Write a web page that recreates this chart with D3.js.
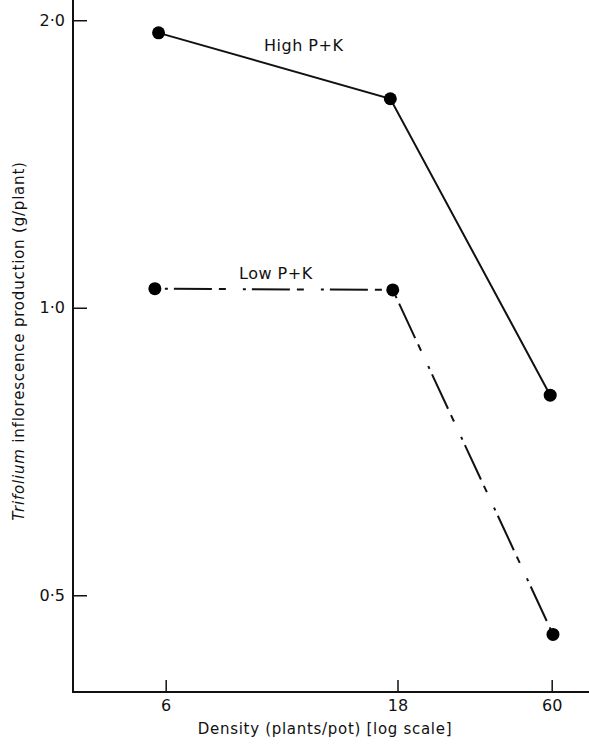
<!DOCTYPE html>
<html>
<head>
<meta charset="utf-8">
<script src="https://cdn.jsdelivr.net/npm/d3@7"></script>
<style>
  body { margin: 0; background: #fff; }
  text { font-family: "DejaVu Sans", sans-serif; fill: #111; }
</style>
</head>
<body>
<div id="chart"></div>
<script>
// density (plants/pot) and inflorescence production (g/plant)
var densityTicks = [6, 18, 60];
var yTicks = [0.5, 1.0, 2.0];
var highDensity = [5.8, 17.4, 59.3];
var highValues = [1.94, 1.655, 0.81];
var lowDensity = [5.7, 17.6, 60.6];
var lowValues = [1.047, 1.044, 0.455];

var width = 589, height = 744;
var margin = {left: 73, bottom: 52};

var svg = d3.select("#chart")
  .append("svg")
  .attr("width", width)
  .attr("height", height);

// x is drawn on a (piecewise) log scale, as in the original figure
var x = d3.scaleLog()
  .domain(densityTicks)
  .range([165.7, 397.5, 551.7]);

var y = d3.scaleLog()
  .domain([0.396, 2.1])
  .range([height - margin.bottom, 0]);

// axes lines
svg.append("line")
  .attr("x1", margin.left).attr("x2", margin.left)
  .attr("y1", 0).attr("y2", height - margin.bottom)
  .attr("stroke", "#111").attr("stroke-width", 2);
svg.append("line")
  .attr("x1", margin.left - 1).attr("x2", width)
  .attr("y1", height - margin.bottom).attr("y2", height - margin.bottom)
  .attr("stroke", "#111").attr("stroke-width", 2);

var yAxis = svg.append("g")
  .attr("transform", "translate(" + margin.left + ",0)")
  .call(d3.axisLeft(y)
    .tickValues(yTicks)
    .tickSize(-14)
    .tickPadding(8)
    .tickFormat(d => d3.format(".1f")(d).replace(".", "·")));

var xAxis = svg.append("g")
  .attr("transform", "translate(0," + (height - margin.bottom) + ")")
  .call(d3.axisBottom(x)
    .tickValues(densityTicks)
    .tickSize(-12)
    .tickPadding(8)
    .tickFormat(d3.format("d")));

[yAxis, xAxis].forEach(g => {
  g.select(".domain").remove();
  g.selectAll(".tick line").attr("stroke", "#111").attr("stroke-width", 1.5);
  g.selectAll(".tick text")
    .attr("fill", "#111")
    .style("font-family", "DejaVu Sans")
    .style("font-size", "16px");
});

// axis titles
svg.append("text")
  .attr("x", 325)
  .attr("y", 734)
  .attr("text-anchor", "middle")
  .style("font-size", "15px")
  .style("letter-spacing", "0.7px")
  .text("Density (plants/pot) [log scale]");

var yt = svg.append("text")
  .attr("transform", "translate(24,341) rotate(-90)")
  .attr("text-anchor", "middle")
  .style("font-size", "15px")
  .style("letter-spacing", "0.8px");
yt.append("tspan").style("font-style", "italic").text("Trifolium");
yt.append("tspan").text(" inflorescence production (g/plant)");

var line = d3.line()
  .x(d => x(d[0]))
  .y(d => y(d[1]));

var high = d3.zip(highDensity, highValues);
var low = d3.zip(lowDensity, lowValues);

svg.append("path")
  .datum(high)
  .attr("d", line)
  .attr("fill", "none")
  .attr("stroke", "#111")
  .attr("stroke-width", 2);

svg.append("path")
  .datum(low)
  .attr("d", line)
  .attr("fill", "none")
  .attr("stroke", "#111")
  .attr("stroke-width", 2)
  .attr("stroke-dasharray", "0,10,3,6,38,7,7,7");

svg.selectAll("circle.high")
  .data(high)
  .enter()
  .append("circle")
  .attr("cx", d => x(d[0]))
  .attr("cy", d => y(d[1]))
  .attr("r", 6.5)
  .attr("fill", "#000");

svg.selectAll("circle.low")
  .data(low)
  .enter()
  .append("circle")
  .attr("cx", d => x(d[0]))
  .attr("cy", d => y(d[1]))
  .attr("r", 6.5)
  .attr("fill", "#000");

// series labels
svg.append("text")
  .attr("x", 264).attr("y", 51)
  .style("font-size", "16px")
  .style("letter-spacing", "0.5px")
  .text("High P+K");

svg.append("text")
  .attr("x", 239).attr("y", 279)
  .style("font-size", "16px")
  .style("letter-spacing", "0.5px")
  .text("Low P+K");
</script>
</body>
</html>
